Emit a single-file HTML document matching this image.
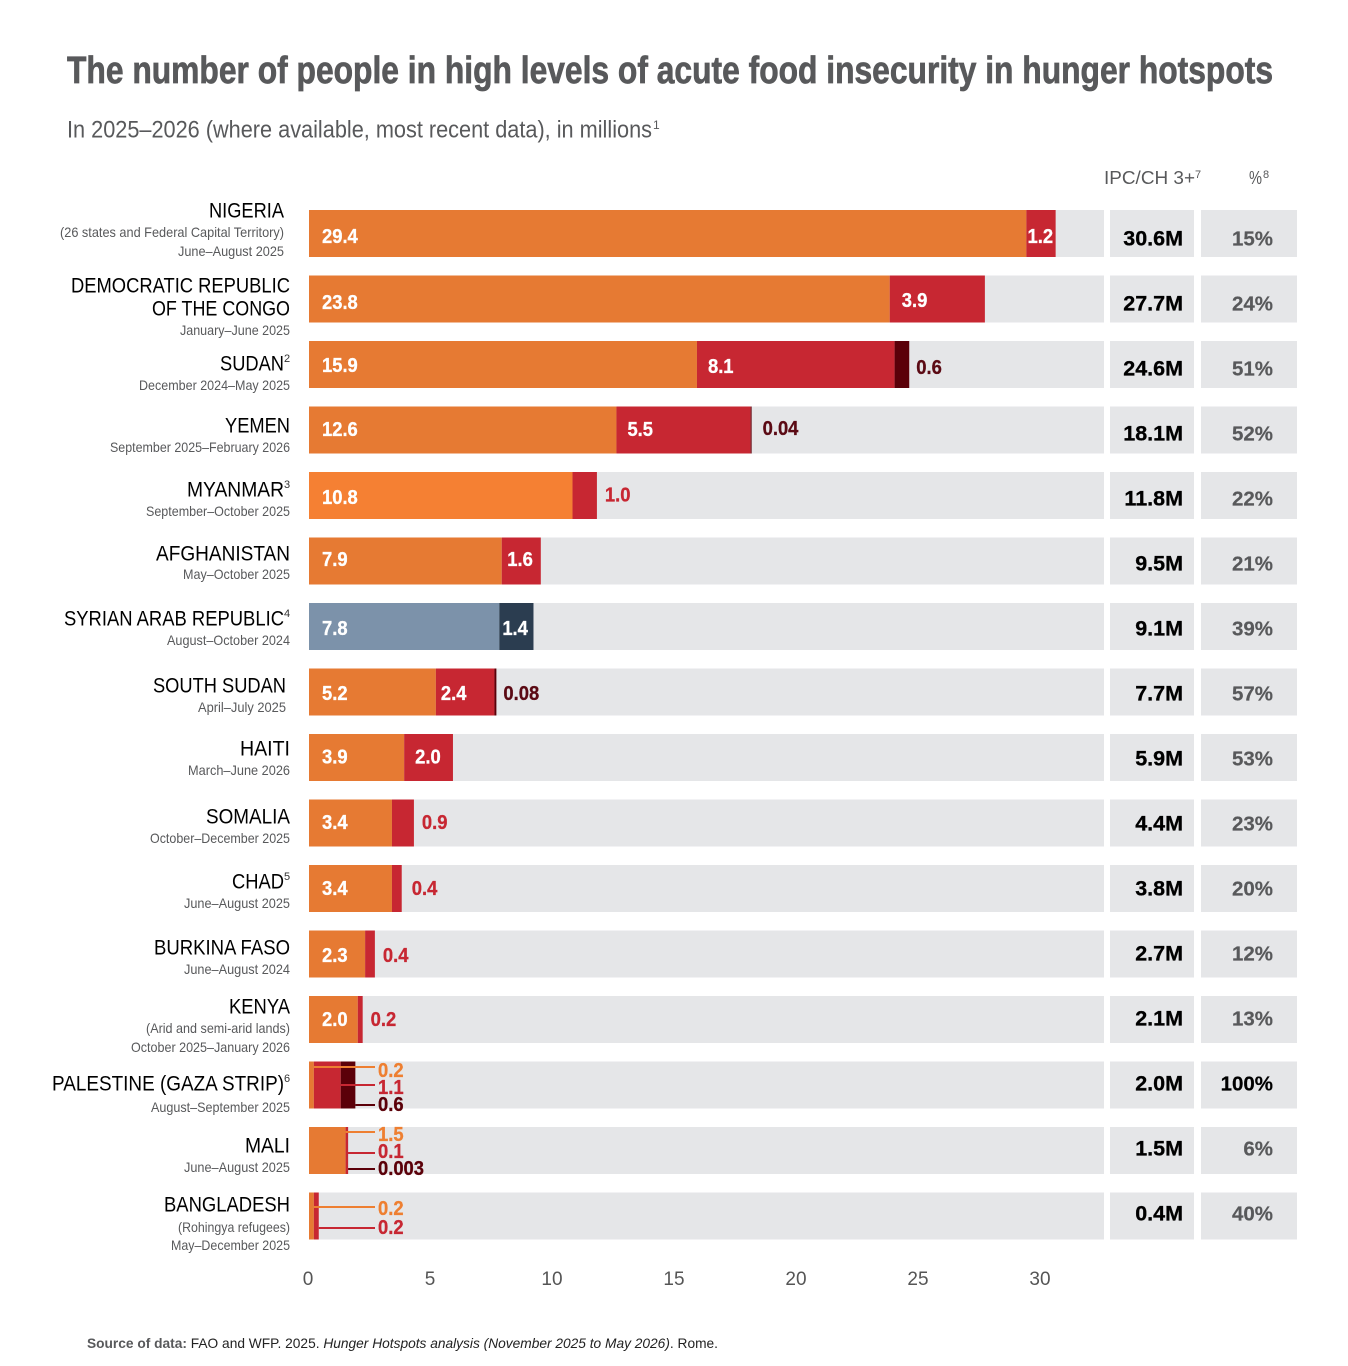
<!DOCTYPE html>
<html lang="en">
<head>
<meta charset="utf-8">
<title>The number of people in high levels of acute food insecurity in hunger hotspots</title>
<style>
html,body{margin:0;padding:0;background:#fff}
svg{display:block;font-family:"Liberation Sans",sans-serif}
.name{font-size:21px;fill:#000;transform:translateY(-0.5px)}
.sub{font-size:14px;fill:#58595b}
.sup{font-size:11px;fill:#333}
</style>
</head>
<body>
<svg id="chart" width="1348" height="1366" viewBox="0 0 1348 1366" xmlns="http://www.w3.org/2000/svg">
<text x="67" y="83" font-size="38" font-weight="700" fill="#58595b" stroke="#58595b" stroke-width="0.7" textLength="1206" lengthAdjust="spacingAndGlyphs">The number of people in high levels of acute food insecurity in hunger hotspots</text>
<text x="67" y="137.5" font-size="24" fill="#58595b" textLength="585" lengthAdjust="spacingAndGlyphs">In 2025–2026 (where available, most recent data), in millions</text>
<text x="653" y="129" font-size="12" fill="#58595b">1</text>
<text x="1104" y="184" font-size="18" fill="#58595b" textLength="91" lengthAdjust="spacingAndGlyphs">IPC/CH 3+</text>
<text x="1195" y="178" font-size="11" fill="#58595b">7</text>
<text x="1249" y="184" font-size="18" fill="#58595b" textLength="13" lengthAdjust="spacingAndGlyphs">%</text>
<text x="1263" y="178" font-size="11" fill="#58595b">8</text>

<g id="rows"></g>
<g id="ticks"></g>

<g>
<text class="name" x="209" y="218" textLength="75" lengthAdjust="spacingAndGlyphs">NIGERIA</text>
<text class="sub" x="60" y="237" textLength="224" lengthAdjust="spacingAndGlyphs">(26 states and Federal Capital Territory)</text>
<text class="sub" x="178" y="256" textLength="106" lengthAdjust="spacingAndGlyphs">June–August 2025</text>

<text class="name" x="71" y="293" textLength="219" lengthAdjust="spacingAndGlyphs">DEMOCRATIC REPUBLIC</text>
<text class="name" x="152" y="316" textLength="138" lengthAdjust="spacingAndGlyphs">OF THE CONGO</text>
<text class="sub" x="180" y="335" textLength="110" lengthAdjust="spacingAndGlyphs">January–June 2025</text>

<text class="name" x="220" y="371" textLength="64" lengthAdjust="spacingAndGlyphs">SUDAN</text>
<text class="sup" x="284" y="362">2</text>
<text class="sub" x="139" y="390" textLength="151" lengthAdjust="spacingAndGlyphs">December 2024–May 2025</text>

<text class="name" x="225" y="433" textLength="65" lengthAdjust="spacingAndGlyphs">YEMEN</text>
<text class="sub" x="110" y="452" textLength="180" lengthAdjust="spacingAndGlyphs">September 2025–February 2026</text>

<text class="name" x="187" y="497" textLength="97" lengthAdjust="spacingAndGlyphs">MYANMAR</text>
<text class="sup" x="284" y="488">3</text>
<text class="sub" x="146" y="516" textLength="144" lengthAdjust="spacingAndGlyphs">September–October 2025</text>

<text class="name" x="156" y="561" textLength="134" lengthAdjust="spacingAndGlyphs">AFGHANISTAN</text>
<text class="sub" x="183" y="579" textLength="107" lengthAdjust="spacingAndGlyphs">May–October 2025</text>

<text class="name" x="64" y="626" textLength="220" lengthAdjust="spacingAndGlyphs">SYRIAN ARAB REPUBLIC</text>
<text class="sup" x="284" y="617">4</text>
<text class="sub" x="167" y="645" textLength="123" lengthAdjust="spacingAndGlyphs">August–October 2024</text>

<text class="name" x="153" y="693" textLength="133" lengthAdjust="spacingAndGlyphs">SOUTH SUDAN</text>
<text class="sub" x="198" y="712" textLength="88" lengthAdjust="spacingAndGlyphs">April–July 2025</text>

<text class="name" x="240" y="756" textLength="50" lengthAdjust="spacingAndGlyphs">HAITI</text>
<text class="sub" x="188" y="775" textLength="102" lengthAdjust="spacingAndGlyphs">March–June 2026</text>

<text class="name" x="206" y="824" textLength="84" lengthAdjust="spacingAndGlyphs">SOMALIA</text>
<text class="sub" x="150" y="843" textLength="140" lengthAdjust="spacingAndGlyphs">October–December 2025</text>

<text class="name" x="232" y="889" textLength="52" lengthAdjust="spacingAndGlyphs">CHAD</text>
<text class="sup" x="284" y="880">5</text>
<text class="sub" x="184" y="908" textLength="106" lengthAdjust="spacingAndGlyphs">June–August 2025</text>

<text class="name" x="154" y="955" textLength="136" lengthAdjust="spacingAndGlyphs">BURKINA FASO</text>
<text class="sub" x="184" y="974" textLength="106" lengthAdjust="spacingAndGlyphs">June–August 2024</text>

<text class="name" x="229" y="1014" textLength="61" lengthAdjust="spacingAndGlyphs">KENYA</text>
<text class="sub" x="146" y="1033" textLength="144" lengthAdjust="spacingAndGlyphs">(Arid and semi-arid lands)</text>
<text class="sub" x="131" y="1052" textLength="159" lengthAdjust="spacingAndGlyphs">October 2025–January 2026</text>

<text class="name" x="52" y="1091" textLength="232" lengthAdjust="spacingAndGlyphs">PALESTINE (GAZA STRIP)</text>
<text class="sup" x="284" y="1082">6</text>
<text class="sub" x="151" y="1112" textLength="139" lengthAdjust="spacingAndGlyphs">August–September 2025</text>

<text class="name" x="245" y="1153" textLength="45" lengthAdjust="spacingAndGlyphs">MALI</text>
<text class="sub" x="184" y="1172" textLength="106" lengthAdjust="spacingAndGlyphs">June–August 2025</text>

<text class="name" x="164" y="1212" textLength="126" lengthAdjust="spacingAndGlyphs">BANGLADESH</text>
<text class="sub" x="178" y="1232" textLength="112" lengthAdjust="spacingAndGlyphs">(Rohingya refugees)</text>
<text class="sub" x="171" y="1250" textLength="119" lengthAdjust="spacingAndGlyphs">May–December 2025</text>
</g>

<text x="87" y="1348" font-size="14" fill="#222" textLength="631" lengthAdjust="spacingAndGlyphs"><tspan font-weight="700" fill="#58595b">Source of data:</tspan> FAO and WFP. 2025. <tspan font-style="italic">Hunger Hotspots analysis (November 2025 to May 2026)</tspan>. Rome.</text>
</svg>

<script>
const countries = ["nigeria","drc","sudan","yemen","myanmar","afghanistan","syria","south-sudan","haiti","somalia","chad","burkina-faso","kenya","palestine","mali","bangladesh"];
const crisisValues = [29.4,23.8,15.9,12.6,10.8,7.9,7.8,5.2,3.9,3.4,3.4,2.3,2.0,0.2,1.5,0.2];
const emergencyValues = [1.2,3.9,8.1,5.5,1.0,1.6,1.4,2.4,2.0,0.9,0.4,0.4,0.2,1.1,0.1,0.2];
const catastropheValues = [0,0,0.6,0.04,0,0,0,0.08,0,0,0,0,0,0.6,0.003,0];
const totalLabels = ["30.6M","27.7M","24.6M","18.1M","11.8M","9.5M","9.1M","7.7M","5.9M","4.4M","3.8M","2.7M","2.1M","2.0M","1.5M","0.4M"];
const shareLabels = ["15%","24%","51%","52%","22%","21%","39%","57%","53%","23%","20%","12%","13%","100%","6%","40%"];
const axisTicks = [0,5,10,15,20,25,30];

const NS = "http://www.w3.org/2000/svg";
const rowsLayer = document.getElementById("rows");
const ticksLayer = document.getElementById("ticks");
const x = v => 309 + v * 24.4;
const rowTop = i => 210 + i * 65.5;
const ROW_H = 47;

function shape(parent, tag, attrs) {
  const el = document.createElementNS(NS, tag);
  for (const k in attrs) el.setAttribute(k, attrs[k]);
  parent.appendChild(el);
  return el;
}
function box(parent, left, top, w, fill) {
  return shape(parent, "rect", {x: left, y: top, width: Math.max(w, 0), height: ROW_H, fill: fill});
}
function valueText(parent, str, left, base, fill) {
  const t = shape(parent, "text", {x: left, y: base, fill: fill, stroke: fill, "stroke-width": 0.3, "font-size": 20, "font-weight": 700, lengthAdjust: "spacingAndGlyphs"});
  let w = 0;
  for (const c of str) w += c === "." ? 5.2 : 10.2;
  t.setAttribute("textLength", w);
  t.textContent = str;
  return t;
}
function fmt(v) { return String(v).includes(".") ? String(v) : v.toFixed(1); }

function drawRows() {
  const baselineOffset = [33,33.5,31,29.5,32,28.5,32,31.5,29.5,29.5,30,31.5,30];
  const secondShift = {7: 5, 8: 11, 5: 5.5, 6: 3, 1: 12};
  const secondRise = {1: 2, 2: -1, 4: 2.5};
  const outsideGap = {10: 10};
  const thirdGap = {3: 11};
  const thirdDrop = {2: 2, 3: -1, 7: 0};
  const leaderY = {13: [5.5,23.5,43.5], 14: [5,26,42], 15: [14.5,35.5]};
  const leaderText = {13: [15.5,32.5,49.5], 14: [14,31,48], 15: [22.5,41.5]};
  const ORANGE = "#e67a33", RED = "#c72732", DARK = "#5b0009";

  countries.forEach((name, i) => {
    const top = rowTop(i);
    const g = shape(rowsLayer, "g", {});
    
    

    const track = box(g, 309, top, 795, "#e5e6e8");
    
    

    const isSyria = name === "syria";
    const c1 = isSyria ? "#7c92aa" : (name === "myanmar" ? "#f58033" : ORANGE);
    const c2 = isSyria ? "#2b3d50" : RED;
    const v1 = crisisValues[i], v2 = emergencyValues[i], v3 = catastropheValues[i];

    const b1 = box(g, x(0), top, x(v1) - x(0), c1);
    
    
    const b2 = box(g, x(v1), top, x(v1 + v2) - x(v1), c2);
    
    
    const b3 = box(g, x(v1 + v2), top, x(v1 + v2 + v3) - x(v1 + v2), DARK);
    
    

    const lbls = shape(g, "g", {});
    
    

    if (leaderY[i]) {
      const vals = [v1, v2, v3];
      const cols = ["#ee7f31", RED, DARK];
      const ends = [x(v1), x(v1 + v2), x(v1 + v2 + v3)];
      leaderY[i].forEach((ly, k) => {
        const ln = shape(lbls, "line", {x1: ends[k], x2: 375, y1: top + ly, y2: top + ly, stroke: cols[k], "stroke-width": 2});
        
        
        const lt = valueText(lbls, fmt(vals[k]), 378, top + leaderText[i][k], cols[k]);
        
        
      });
    } else {
      const base = top + baselineOffset[i];
      const t1 = valueText(lbls, fmt(v1), 322, base, "#fff");
      
      
      const w2 = x(v1 + v2) - x(v1);
      const base2 = base - (secondRise[i] || 0);
      let t2;
      if (w2 >= 28) {
        const shift = secondShift[i] !== undefined ? secondShift[i] : Math.min(11, (w2 - 27) / 2);
        t2 = valueText(lbls, fmt(v2), x(v1) + shift, base2, "#fff");
      } else {
        t2 = valueText(lbls, fmt(v2), x(v1 + v2) + (outsideGap[i] || 8), base2, RED);
      }
      
      
      if (v3 > 0) {
        const t3 = valueText(lbls, fmt(v3), x(v1 + v2 + v3) + (thirdGap[i] || 7), base + (thirdDrop[i] || 0), "#5b0a14");
        
        
      }
    }

    const totalCell = box(g, 1110, top, 84, "#e5e6e8");
    
    
    const shareCell = box(g, 1201, top, 96, "#e5e6e8");
    
    

    const textBase = 245.5 + i * 65;
    const total = shape(g, "text", {x: 1183, y: textBase, "text-anchor": "end", "font-size": 21.5, "font-weight": 700, fill: "#000", stroke: "#000", "stroke-width": 0.3});
    
    
    total.textContent = totalLabels[i];
    const shareFill = shareLabels[i] === "100%" ? "#000" : "#58595b";
    const share = shape(g, "text", {x: 1273, y: textBase, "text-anchor": "end", "font-size": 20.5, "font-weight": 700, fill: shareFill, stroke: shareFill, "stroke-width": 0.2});
    
    
    share.textContent = shareLabels[i];
  });
}

function drawAxis() {
  axisTicks.forEach(v => {
    const t = shape(ticksLayer, "text", {x: x(v) - 1, y: 1285, "text-anchor": "middle", "font-size": 19, fill: "#555"});
    
    
    t.textContent = v;
  });
}

drawRows();
drawAxis();
</script>
</body>
</html>
